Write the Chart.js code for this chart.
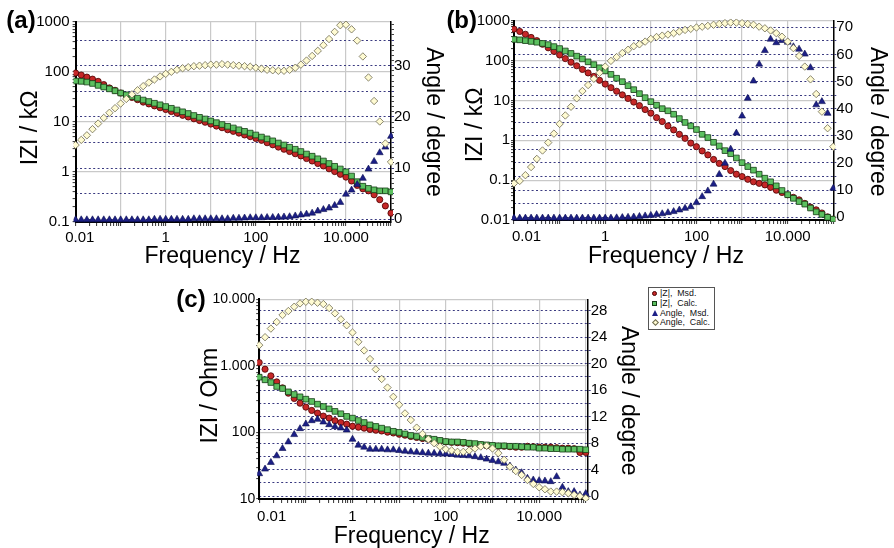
<!DOCTYPE html>
<html>
<head>
<meta charset="utf-8">
<script src="https://cdn.jsdelivr.net/npm/chart.js@4.4.1/dist/chart.umd.min.js"></script>
<style>
  html, body { margin: 0; padding: 0; background: #fff; }
  #fig { position: relative; width: 894px; height: 548px; overflow: hidden; background: #fff;
         font-family: "Liberation Sans", Arial, Helvetica, sans-serif; }
  #fig canvas { position: absolute; }
  #legend { position: absolute; left: 648px; top: 287px; width: 67px; height: 43px;
            box-sizing: border-box; border: 1px solid #555; background: #fff;
            padding: 1px 0 0 2px; font-size: 8.8px; line-height: 9.8px; color: #111; }
  #legend .row { position: relative; height: 9.8px; padding-left: 9px; white-space: pre; }
  #legend .mk { position: absolute; left: 1px; top: 2px; box-sizing: border-box; }
  .mk.circle { width: 5px; height: 5px; border-radius: 50%; background: #c62828; border: 1px solid #4a0000; }
  .mk.rect { width: 5px; height: 5px; background: #5cc060; border: 1px solid #143c14; }
  .mk.triangle { width: 0; height: 0; border-left: 3px solid transparent; border-right: 3px solid transparent;
                 border-bottom: 6px solid #1c1f86; top: 1px !important; }
  .mk.rectRot { width: 5px; height: 5px; background: #fffbd2; border: 1px solid #6d6a50; transform: rotate(45deg); left: 1.5px !important; }
</style>
</head>
<body>
<div id="fig">
  <canvas id="pa" width="450" height="282" style="left:0px;top:0px"></canvas>
  <canvas id="pb" width="447" height="282" style="left:447px;top:0px"></canvas>
  <canvas id="pc" width="480" height="266" style="left:160px;top:282px"></canvas>
  <div id="legend"></div>
</div>
<script>
// Measurement frequencies, Hz (8 points per decade, 10 mHz ... 100 kHz)
const freqHz = [0.01, 0.01334, 0.01778, 0.02371, 0.03162, 0.04217, 0.05623, 0.07499,
  0.1, 0.1334, 0.1778, 0.2371, 0.3162, 0.4217, 0.5623, 0.7499,
  1, 1.334, 1.778, 2.371, 3.162, 4.217, 5.623, 7.499,
  10, 13.34, 17.78, 23.71, 31.62, 42.17, 56.23, 74.99,
  100, 133.4, 177.8, 237.1, 316.2, 421.7, 562.3, 749.9,
  1000, 1334, 1778, 2371, 3162, 4217, 5623, 7499,
  10000, 13335, 17783, 23714, 31623, 42170, 56234, 74989, 100000];

const freqTicks = [0.01, 1, 100, 10000];
const freqTickText = ['0.01', '1', '100', '10.000'];

const seriesNames = ['|Z|,  Msd.', '|Z|,  Calc.', 'Angle,  Msd.', 'Angle,  Calc.'];

// Panel (a): |Z| in kOhm, phase angle in degrees
const zMsdA = [95.5, 87, 79, 72, 65, 56, 48, 43, 38, 34, 31, 28, 25, 23, 21, 19.3, 17.8, 16.2, 15, 13.6,
  12.6, 11.6, 10.7, 9.9, 9.1, 8.3, 7.7, 7.0, 6.5, 6.0, 5.5, 5.1, 4.7, 4.3, 3.85, 3.5, 3.15, 2.85, 2.57, 2.32,
  2.1, 1.86, 1.66, 1.48, 1.32, 1.16, 1.02, 0.90, 0.79, 0.66, 0.54, 0.46, 0.42, 0.35, 0.28, 0.21, 0.15];
const zCalcA = [66, 65, 63, 59, 54, 50, 46, 42, 38, 35, 32.4, 29.9, 27.5, 25.7, 23.7, 22.1, 20.4, 18.8, 17.4, 16.0,
  14.8, 13.5, 12.4, 11.5, 10.5, 9.7, 8.9, 8.2, 7.6, 7.0, 6.5, 6.0, 5.5, 5.0, 4.6, 4.2, 3.8, 3.47, 3.13, 2.85,
  2.57, 2.29, 2.07, 1.84, 1.66, 1.48, 1.30, 1.15, 1.01, 0.83, 0.64, 0.52, 0.47, 0.44, 0.42, 0.42, 0.40];
const angMsdA = [-0.1, -0.1, -0.1, -0.1, -0.1, -0.1, -0.1, -0.1, -0.1, -0.1, -0.1, -0.1, -0.1, -0.1,
  0.0, 0.0, 0.0, 0.0, 0.0, 0.0, 0.0, 0.1, 0.1, 0.1, 0.1, 0.1, 0.1, 0.1,
  0.2, 0.2, 0.25, 0.3, 0.3, 0.3, 0.35, 0.35, 0.4, 0.45, 0.5, 0.65, 0.85, 1.0, 1.2, 1.6, 1.9, 2.2, 2.7, 3.3,
  4.9, 5.7, 6.8, 8.0, 9.8, 11.3, 13.0, 14.1, 16.2];
const angCalcA = [14.5, 15.5, 16.4, 17.6, 18.7, 19.8, 20.8, 21.7, 22.6, 23.5, 24.4, 25.2, 26.0, 26.7, 27.3, 27.9,
  28.4, 28.8, 29.2, 29.5, 29.7, 29.9, 30.0, 30.1, 30.2, 30.2, 30.3, 30.2, 30.1, 30.0, 29.9, 29.8, 29.6, 29.4,
  29.2, 29.1, 29.0, 29.0, 29.2, 29.6, 30.2, 31.0, 31.9, 32.9, 34.0, 35.2, 36.6, 37.9, 38.0, 37.1, 34.9, 31.8,
  27.7, 23.1, 19.1, 14.8, 11.2];
const zTicksA = [0.1, 1, 10, 100, 1000];
const zTickTextA = ['0.1', '1', '10', '100', '1000'];
const angGridA = [0, 5, 10, 15, 20, 25, 30, 35];
const angLabelA = [0, 10, 20, 30];
const angMinorA = [1, 2, 3, 4, 6, 7, 8, 9, 11, 12, 13, 14, 16, 17, 18, 19, 21, 22, 23, 24, 26, 27, 28, 29,
  31, 32, 33, 34, 36, 37, 38];

// Panel (b): |Z| in kOhm, phase angle in degrees
const zMsdB = [617, 537, 457, 380, 316, 257, 209, 170, 138, 112, 91, 74, 60, 49, 40, 32, 25.7, 20.9, 17.0, 13.8,
  11.2, 9.1, 7.4, 5.9, 4.8, 3.7, 2.95, 2.29, 1.82, 1.41, 1.12, 0.85, 0.69, 0.54, 0.43, 0.33, 0.263, 0.219, 0.174, 0.141,
  0.123, 0.105, 0.091, 0.083, 0.076, 0.066, 0.056, 0.049, 0.043, 0.037, 0.032, 0.026, 0.021, 0.018, 0.015, 0.012, 0.0105];
const zCalcB = [339, 331, 316, 302, 288, 269, 251, 224, 200, 174, 151, 129, 110, 93, 79, 66, 55, 45, 36, 29.5,
  23.4, 18.6, 14.8, 11.7, 9.3, 7.6, 6.2, 5.5, 4.5, 3.5, 2.8, 2.3, 1.86, 1.41, 1.17, 0.89, 0.72, 0.55, 0.46, 0.36,
  0.275, 0.219, 0.178, 0.141, 0.112, 0.091, 0.072, 0.055, 0.043, 0.035, 0.029, 0.025, 0.020, 0.016, 0.0138, 0.0117, 0.0105];
const angMsdB = [-0.3, -0.3, -0.3, -0.3, -0.3, -0.3, -0.3, -0.3, -0.3, -0.3, -0.3, -0.3, -0.3, -0.3, -0.3, -0.3, -0.3, -0.3,
  -0.2, -0.1, 0.0, 0.1, 0.3, 0.5, 0.7, 1.0, 1.3, 1.7, 2.1, 2.7, 3.3, 3.9, 5.4, 7.6, 9.7, 12.2, 15.8, 19.9, 25.1,
  31.0, 37.3, 43.8, 50.2, 56.4, 61.4, 65.6, 64.3, 65.1, 64.5, 62.8, 61.9, 60.1, 55.1, 41.4, 42.6, 38.3, 10.7];
const angCalcB = [12.5, 13.4, 15.5, 18.5, 21.5, 24.6, 27.5, 30.8, 34.4, 37.5, 40.7, 43.8, 46.5, 48.7, 51.0, 53.2,
  55.5, 57.6, 59.0, 60.5, 61.7, 63.0, 63.7, 64.7, 65.7, 66.4, 66.9, 67.3, 67.8, 68.4, 69.0, 69.4, 69.9, 70.2,
  70.5, 70.9, 71.2, 71.5, 71.7, 71.7, 71.5, 71.2, 70.9, 70.2, 69.6, 68.8, 67.8, 66.5, 64.7, 62.3, 59.4, 55.5,
  50.8, 45.4, 38.9, 32.8, 26.0];
const zTicksB = [0.01, 0.1, 1, 10, 100, 1000];
const zTickTextB = ['0.01', '0.1', '1', '10', '100', '1000'];
const angGridB = [0, 5, 10, 15, 20, 25, 30, 35, 40, 45, 50, 55, 60, 65, 70];
const angLabelB = [0, 10, 20, 30, 40, 50, 60, 70];

// Panel (c): |Z| in Ohm, phase angle in degrees
const zMsdC = [1122, 891, 708, 575, 468, 389, 324, 275, 240, 214, 195, 176, 164, 150, 141, 133, 124, 120, 116, 111,
  108, 105, 101, 98, 94, 91, 87, 84, 81, 79, 77, 74, 72, 71, 70, 69, 68, 66, 65, 63,
  62, 62, 62, 61, 60, 60, 62, 61, 60, 60, 60, 59, 58, 58, 57, 50, 50];
const zCalcC = [676, 617, 562, 490, 457, 407, 372, 343, 316, 292, 266, 245, 226, 207, 191, 174, 164, 151, 141, 130,
  123, 116, 110, 104, 100, 95, 90, 87, 84, 81, 79, 76, 73, 72, 72, 71, 69, 68, 66, 65,
  64, 63, 63, 62, 62, 61, 60, 60, 58, 58, 57, 57, 56, 56, 56, 56, 55];
const angMsdC = [3.4, 4.1, 5.1, 6.1, 7.2, 8.2, 9.3, 10.2, 10.9, 11.4, 11.6, 11.2, 10.8, 10.5, 10.3, 10.0, 8.6, 7.7,
  7.4, 7.1, 7.1, 7.1, 7.0, 7.0, 6.9, 6.8, 6.7, 6.65, 6.57, 6.5, 6.47, 6.4, 6.37, 6.3, 6.2, 6.15, 6.1, 5.97, 5.82,
  5.6, 5.4, 5.2, 4.97, 4.56, 3.95, 3.55, 2.7, 2.45, 2.35, 2.3, 2.2, 2.95, 1.35, 0.7, 0.7, 0.2, 0.4];
const angCalcC = [22.8, 24.0, 25.3, 26.3, 27.35, 27.95, 28.6, 29.1, 29.35, 29.35, 29.2, 29.0, 28.4, 27.6, 26.7, 25.8,
  24.7, 23.3, 22.0, 20.7, 19.15, 17.7, 16.4, 15.0, 13.8, 12.5, 11.5, 10.35, 9.4, 8.6, 8.0, 7.5, 7.1, 6.9, 6.7,
  6.7, 6.9, 7.2, 7.5, 7.6, 7.2, 6.5, 5.5, 4.45, 3.8, 3.2, 2.45, 1.85, 1.35, 1.05, 0.7, 0.7, 0.6, 0.45, 0.2, 0.0, -0.3];
const zTicksC = [10, 100, 1000, 10000];
const zTickTextC = ['10', '100', '1.000', '10.000'];
const angGridC = [0, 2, 4, 6, 8, 10, 12, 14, 16, 18, 20, 22, 24, 26, 28];
const angLabelC = [0, 4, 8, 12, 16, 20, 24, 28];

const FONT = '"Liberation Sans", Arial, Helvetica, sans-serif';
const GRID_GRAY = '#c9c9c9';
const DOT_NAVY = '#3a3a80';
const NONE = 'rgba(0,0,0,0)';

// marker look for the four series, in the order of seriesNames
const markers = [
  { shape: 'circle',   r: 3.1, fill: '#c62828', edge: '#4a0000', w: 0.8 },
  { shape: 'rect',     r: 4.0, fill: '#5cc060', edge: '#143c14', w: 0.8 },
  { shape: 'triangle', r: 4.0, fill: '#1c1f86', edge: '#0c0f50', w: 0.6 },
  { shape: 'rectRot',  r: 3.7, fill: '#fffbd2', edge: '#6d6a50', w: 0.8 }
];

function logTickValues(min, max) {
  const out = [];
  for (let e = Math.floor(Math.log10(min)); e <= Math.ceil(Math.log10(max)); e++) {
    for (let m = 1; m <= 9; m++) {
      const v = +(m * Math.pow(10, e)).toPrecision(6);
      if (v >= min * 0.9999 && v <= max * 1.0001) out.push(v);
    }
  }
  return out;
}
function isDecade(v) { const l = Math.log10(v); return Math.abs(l - Math.round(l)) < 1e-6; }
function logLabel(v, vals, texts) {
  const i = vals.findIndex(t => Math.abs(Math.log10(t) - Math.log10(v)) < 1e-6);
  return i < 0 ? '' : texts[i];
}

// free text: panel letters and axis captions
const captionPlugin = {
  id: 'captions',
  afterDraw(chart, args, opts) {
    const ctx = chart.ctx;
    for (const c of opts.items || []) {
      ctx.save();
      ctx.translate(c.x, c.y);
      if (c.rot) ctx.rotate(c.rot);
      ctx.font = c.font;
      ctx.fillStyle = '#000';
      ctx.textAlign = 'center';
      ctx.textBaseline = 'middle';
      ctx.fillText(c.text, 0, 0);
      ctx.restore();
    }
  }
};

function drawPanel(p) {
  const canvas = document.getElementById(p.id);
  const W = canvas.width, H = canvas.height, A = p.area;
  const series = [p.zMsd, p.zCalc, p.angMsd, p.angCalc];
  const axisOf = ['z', 'z', 'ang', 'ang'];
  const drawOrder = [4, 3, 2, 1];
  const datasets = series.map((vals, s) => ({
    label: seriesNames[s],
    data: freqHz.map((f, i) => ({ x: f, y: vals[i] })),
    yAxisID: axisOf[s],
    order: drawOrder[s],
    showLine: false,
    pointStyle: markers[s].shape,
    pointRadius: markers[s].r,
    pointHoverRadius: markers[s].r,
    pointBackgroundColor: markers[s].fill,
    pointBorderColor: markers[s].edge,
    pointBorderWidth: markers[s].w,
    clip: 2
  }));
  const angTicks = p.angGrid.concat(p.angMinor || []).sort((a, b) => a - b);
  new Chart(canvas, {
    type: 'scatter',
    data: { datasets },
    options: {
      responsive: false, animation: false, devicePixelRatio: 1,
      events: [],
      layout: { padding: { left: 0, right: 0, top: A.top, bottom: 0 } },
      plugins: { legend: { display: false }, tooltip: { enabled: false },
                 captions: { items: p.captions } },
      scales: {
        x: {
          type: 'logarithmic', position: 'bottom', min: 0.01, max: p.xMax,
          afterBuildTicks: s => { s.ticks = logTickValues(0.01, 100000).map(v => ({ value: v })); },
          afterFit: s => { s.height = H - A.bottom; },
          ticks: { autoSkip: false, maxRotation: 0, minRotation: 0, font: { family: FONT, size: 15 }, color: '#000',
                   padding: p.xPad,
                   callback: v => { const t = logLabel(v, freqTicks, freqTickText);
                                    return (t && v === freqTicks[0]) ? p.firstLead + t : t; } },
          grid: { color: c => (c.tick && isDecade(c.tick.value)) ? GRID_GRAY : NONE,
                  lineWidth: 1.2, tickColor: '#333', tickLength: 4, tickWidth: 1 },
          border: { color: '#000', width: 2 }
        },
        z: {
          type: 'logarithmic', position: 'left', min: p.zMin, max: p.zMax,
          afterBuildTicks: s => { s.ticks = logTickValues(p.zMin, p.zMax).map(v => ({ value: v })); },
          afterFit: s => { s.width = A.left; },
          ticks: { autoSkip: false, font: { family: FONT, size: p.tickSize || 15 }, color: '#000', padding: p.zPad,
                   callback: v => logLabel(v, p.zTicks, p.zText) },
          grid: { color: c => (c.tick && isDecade(c.tick.value)) ? GRID_GRAY : NONE,
                  lineWidth: 1.2, tickColor: '#333', tickLength: 3, tickWidth: 1 },
          border: { color: '#000', width: 2 }
        },
        ang: {
          type: 'linear', position: 'right', min: p.angMin, max: p.angMax,
          afterBuildTicks: s => { s.ticks = angTicks.map(v => ({ value: v })); },
          afterFit: s => { s.width = W - A.right; },
          ticks: { autoSkip: false, font: { family: FONT, size: 15 }, color: '#000', padding: 0,
                   callback: v => p.angLabel.includes(v) ? String(v) : '' },
          grid: { color: c => (c.tick && p.angGrid.includes(c.tick.value)) ? DOT_NAVY : NONE,
                  lineWidth: 1,
                  tickColor: c => (c.tick && p.angGrid.includes(c.tick.value)) ? DOT_NAVY : '#444',
                  tickLength: 3 },
          border: { color: '#000', width: 1.5, dash: [2, 2.4] }
        }
      }
    },
    plugins: [captionPlugin]
  });
}

const TITLE = '23px ' + FONT;
const LETTER = 'bold 24px ' + FONT;

drawPanel({
  id: 'pa', area: { left: 75.6, right: 391, top: 22, bottom: 222 },
  xMax: 100000, zMin: 0.1, zMax: 1000, zTicks: zTicksA, zText: zTickTextA,
  angMin: -0.53, angMax: 38.53, angGrid: angGridA, angLabel: angLabelA, angMinor: angMinorA,
  zMsd: zMsdA, zCalc: zCalcA, angMsd: angMsdA, angCalc: angCalcA,
  xPad: 2.5, zPad: 3, firstLead: '  ',
  captions: [
    { text: '(a)', x: 21, y: 21.5, font: LETTER },
    { text: 'Frequency / Hz', x: 222.5, y: 257, font: TITLE },
    { text: 'IZI / kΩ', x: 31, y: 128, rot: -Math.PI / 2, font: TITLE },
    { text: 'Angle / degree', x: 433, y: 122, rot: Math.PI / 2, font: TITLE }
  ]
});

drawPanel({
  id: 'pb', area: { left: 67, right: 386.3, top: 20.7, bottom: 220 },
  xMax: 100000, zMin: 0.01, zMax: 1000, zTicks: zTicksB, zText: zTickTextB,
  angMin: -1.0, angMax: 72.4, angGrid: angGridB, angLabel: angLabelB,
  zMsd: zMsdB, zCalc: zCalcB, angMsd: angMsdB, angCalc: angCalcB,
  xPad: 3.5, zPad: 1, firstLead: '      ',
  captions: [
    { text: '(b)', x: 14.7, y: 21, font: LETTER },
    { text: 'Frequency / Hz', x: 219, y: 256.5, font: TITLE },
    { text: 'IZI / kΩ', x: 29, y: 125, rot: -Math.PI / 2, font: TITLE },
    { text: 'Angle / degree', x: 430.5, y: 121.7, rot: Math.PI / 2, font: TITLE }
  ]
});

drawPanel({
  id: 'pc', area: { left: 99.2, right: 427.7, top: 17.3, bottom: 217 },
  xMax: 110000, zMin: 10, zMax: 10000, zTicks: zTicksC, zText: zTickTextC,
  angMin: -0.42, angMax: 29.72, angGrid: angGridC, angLabel: angLabelC,
  zMsd: zMsdC, zCalc: zCalcC, angMsd: angMsdC, angCalc: angCalcC,
  xPad: 5, zPad: 1, firstLead: '      ', tickSize: 14,
  captions: [
    { text: '(c)', x: 31, y: 18, font: LETTER },
    { text: 'Frequency / Hz', x: 251.7, y: 255, font: TITLE },
    { text: 'IZI / Ohm', x: 51, y: 113.7, rot: -Math.PI / 2, font: TITLE },
    { text: 'Angle / degree', x: 468, y: 118.8, rot: Math.PI / 2, font: TITLE }
  ]
});

// legend box
const legend = document.getElementById('legend');
seriesNames.forEach((name, s) => {
  const row = document.createElement('div');
  row.className = 'row';
  const mk = document.createElement('span');
  mk.className = 'mk ' + markers[s].shape;
  row.appendChild(mk);
  row.appendChild(document.createTextNode(name));
  legend.appendChild(row);
});
</script>
</body>
</html>
